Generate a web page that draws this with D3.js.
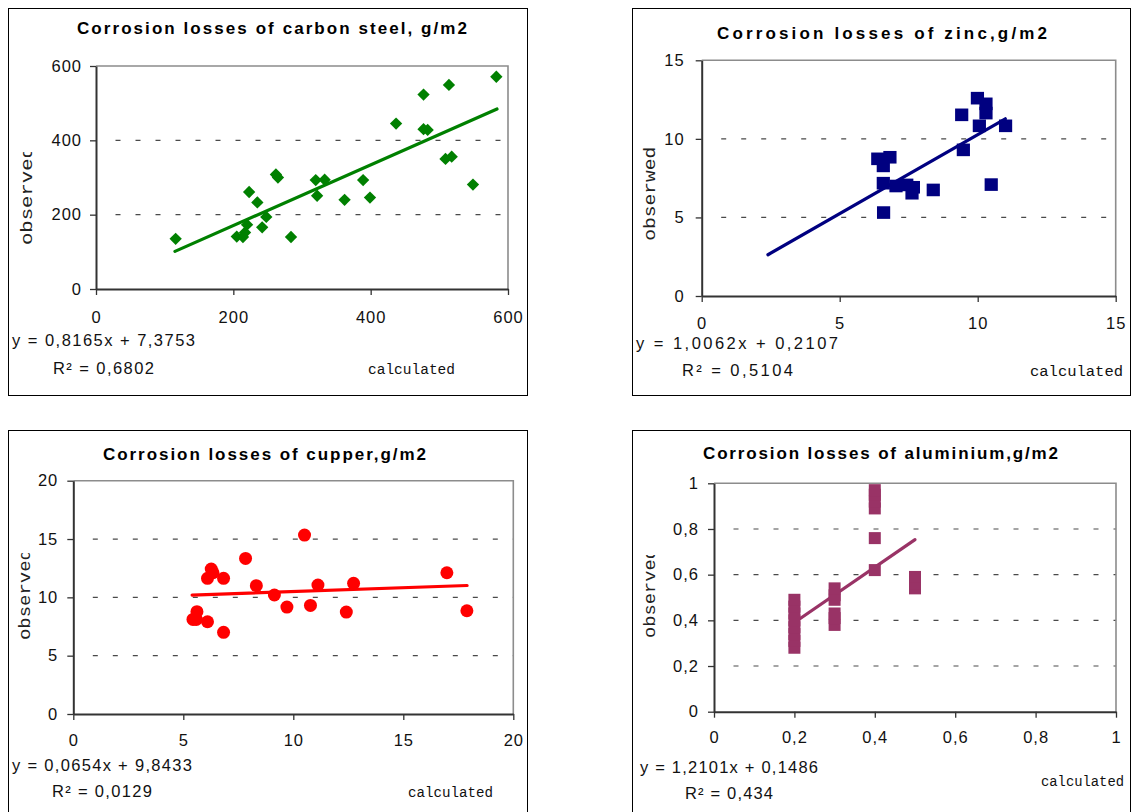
<!DOCTYPE html>
<html><head><meta charset="utf-8">
<script src="https://cdn.jsdelivr.net/npm/d3@7"></script>
<style>body{margin:0;background:#fff}svg{display:block}</style>
</head><body><svg id="c" width="1131" height="812"></svg>
<script>
// ---------- data ----------
const steelCalculated=[116,205,214,217,220,223,235,242,248,262,265,284,320,322,333,362,389,399,437,477,477,483,509,514,518,549,583];
const steelObserved  =[135,141,140,152,173,261,233,166,194,308,300,140,293,251,294,240,293,246,445,523,430,428,350,549,356,281,571];
const steelTicks=[0,200,400,600];
const steelTickLabels=["0","200","400","600"];

const zincCalculated=[6.38,6.82,6.58,6.58,7.04,7.43,7.67,7.62,6.59,8.39,9.42,9.99,10.30,10.30,10.06,11.01,9.48,10.49];
const zincObserved  =[8.73,8.83,8.28,7.18,7.00,7.07,6.92,6.54,5.31,6.75,11.53,12.59,12.23,11.64,10.83,10.83,9.30,7.09];
const zincTicks=[0,5,10,15];
const zincTickLabels=["0","5","10","15"];

const copperCalculated=[5.44,5.59,5.62,6.10,6.10,6.27,6.35,6.83,6.83,7.83,8.32,9.14,9.71,10.51,10.78,11.12,12.41,12.74,16.98,17.89];
const copperObserved  =[8.11,8.11,8.77,7.91,11.63,12.43,12.11,11.63,7.00,13.34,11.00,10.20,9.17,15.34,9.31,11.05,8.74,11.20,12.11,8.85];
const copperTicks=[0,5,10,15,20];
const copperTickLabels=["0","5","10","15","20"];

const aluCalculated=[0.2,0.2,0.2,0.2,0.2,0.2,0.2,0.2,0.3,0.3,0.3,0.3,0.3,0.3,0.4,0.4,0.4,0.4,0.4,0.4,0.5,0.5,0.5];
const aluObserved  =[0.28,0.31,0.34,0.37,0.40,0.43,0.46,0.49,0.38,0.41,0.43,0.49,0.51,0.54,0.62,0.76,0.89,0.92,0.95,0.97,0.54,0.56,0.59];
const aluTicks=[0,0.2,0.4,0.6,0.8,1];
const aluTickLabels=["0","0,2","0,4","0,6","0,8","1"];

const titles=["Corrosion losses of carbon steel, g/m2","Corrosion losses of zinc,g/m2","Corrosion losses of cupper,g/m2","Corrosion losses of aluminium,g/m2"];
const yLabels=["observed","obserwed","observed","observed"];
const xLabel="calculated";
const equations=["y = 0,8165x + 7,3753","y = 1,0062x + 0,2107","y = 0,0654x + 9,8433","y = 1,2101x + 0,1486"];
const rSquared=["R² = 0,6802","R² = 0,5104","R² = 0,0129","R² = 0,434"];
const trendSlope=[0.8165,1.0062,0.0654,1.2101];
const trendIntercept=[7.3753,0.2107,9.8433,0.1486];
const trendFrom=[115,2.4,5.4,0.2];
const trendTo=[584,11.0,17.9,0.5];
const colors=["#008000","#000080","#ff0000","#993366"];

// ---------- layout ----------
const svg=d3.select("#c");
const defs=svg.append("defs");
const panels=[
 {xs:steelCalculated,ys:steelObserved,ticks:steelTicks,labels:steelTickLabels,max:600,marker:"diamond",
  box:[8,8,527,395],plot:{l:96,r:508,t:66,b:289},yPad:8,xPad:16.5,
  title:{cx:272,y:33.5,w:390},eq:{x:12,y:345.5,w:183},r2:{x:53,y:374,w:101},calc:{x:368,y:374,w:87},
  obs:{x:31.5,y:245,w:99,clip:152}},
 {xs:zincCalculated,ys:zincObserved,ticks:zincTicks,labels:zincTickLabels,max:15,marker:"square",
  box:[632,8,1130,395],plot:{l:701.7,r:1115.7,t:60.3,b:296},yPad:11,xPad:15.5,
  title:{cx:882,y:38.5,w:330},eq:{x:636,y:348.5,w:202},r2:{x:682,y:376,w:111},calc:{x:1030,y:375.5,w:93},
  obs:{x:655,y:240.7,w:94,clip:0}},
 {xs:copperCalculated,ys:copperObserved,ticks:copperTicks,labels:copperTickLabels,max:20,marker:"circle",
  box:[8,430,527,812],plot:{l:73.3,r:513.3,t:480.7,b:714},yPad:9,xPad:14.5,
  title:{cx:264.5,y:460,w:323},eq:{x:12,y:770.5,w:180},r2:{x:52,y:796.5,w:100},calc:{x:408,y:796.5,w:85},
  obs:{x:30,y:640,w:91,clip:553}},
 {xs:aluCalculated,ys:aluObserved,ticks:aluTicks,labels:aluTickLabels,max:1,marker:"rect",
  box:[632,430,1130,812],plot:{l:714,r:1116,t:483.3,b:711.7},yPad:9,xPad:14,
  title:{cx:880.5,y:459,w:355},eq:{x:640,y:772.5,w:178},r2:{x:685,y:798.5,w:88},calc:{x:1041,y:785.5,w:83},
  obs:{x:655,y:638,w:90,clip:555}}
];

panels.forEach((p,i)=>{
 const g=svg.append("g");
 const [bx0,by0,bx1,by1]=p.box;
 g.append("rect").attr("x",bx0+0.5).attr("y",by0+0.5).attr("width",bx1-bx0).attr("height",by1-by0)
  .attr("fill","#fff").attr("stroke","#000").attr("stroke-width",1);
 const {l,r,t,b}=p.plot;
 const x=d3.scaleLinear().domain([0,p.max]).range([l,r]);
 const y=d3.scaleLinear().domain([0,p.max]).range([b,t]);

 // title
 g.append("text").attr("x",p.title.cx).attr("y",p.title.y).attr("text-anchor","middle")
  .attr("font-family","'Liberation Sans',Arial,sans-serif").attr("font-weight","bold").attr("font-size",17)
  .attr("textLength",p.title.w).attr("lengthAdjust","spacing").attr("fill","#000").text(titles[i]);

 // grid
 g.selectAll("line.grid").data(p.ticks.filter(v=>v>0&&v<p.max)).join("line").attr("class","grid")
  .attr("x1",l+19.5).attr("x2",r).attr("y1",d=>y(d)).attr("y2",d=>y(d))
  .attr("stroke","#4a4a4a").attr("stroke-width",1.2).attr("stroke-dasharray","5,15");

 // top/right border
 g.append("path").attr("d",`M${l},${t}H${r}V${b}`).attr("fill","none").attr("stroke","#8c8c8c").attr("stroke-width",1.6);

 // axes
 const fmt=(d)=>p.labels[p.ticks.indexOf(d)];
 const ay=g.append("g").attr("transform",`translate(${l},0)`)
  .call(d3.axisLeft(y).tickValues(p.ticks).tickFormat(fmt).tickSizeInner(6).tickSizeOuter(0).tickPadding(p.yPad));
 const axx=g.append("g").attr("transform",`translate(0,${b})`)
  .call(d3.axisBottom(x).tickValues(p.ticks).tickFormat(fmt).tickSizeInner(6).tickSizeOuter(0).tickPadding(p.xPad));
 [ay,axx].forEach(a=>{
  a.attr("font-family",null).attr("font-size",null);
  a.select(".domain").attr("stroke","#333").attr("stroke-width",2);
  a.selectAll(".tick line").attr("stroke","#333").attr("stroke-width",1.3);
  a.selectAll(".tick text").attr("fill","#111").attr("font-family","'Liberation Sans',Arial,sans-serif")
   .attr("font-size",16.5).attr("letter-spacing","1px");
 });

 // trend line
 const tl=[trendFrom[i],trendTo[i]];
 g.append("line").attr("x1",x(tl[0])).attr("y1",y(trendSlope[i]*tl[0]+trendIntercept[i]))
  .attr("x2",x(tl[1])).attr("y2",y(trendSlope[i]*tl[1]+trendIntercept[i]))
  .attr("stroke",colors[i]).attr("stroke-width",3.2).attr("stroke-linecap","round");

 // markers
 const pts=p.xs.map((v,k)=>({cx:v,cy:p.ys[k]}));
 const mg=g.append("g").attr("fill",colors[i]);
 if(p.marker==="diamond"){
  mg.selectAll("path").data(pts).join("path").attr("d",d3.symbol(d3.symbolSquare,76)())
   .attr("transform",d=>`translate(${x(d.cx)},${y(d.cy)}) rotate(45)`);
 } else if(p.marker==="square"){
  mg.selectAll("rect").data(pts).join("rect").attr("x",d=>x(d.cx)-6.6).attr("y",d=>y(d.cy)-6.3)
   .attr("width",13.2).attr("height",12.6);
 } else if(p.marker==="circle"){
  mg.selectAll("circle").data(pts).join("circle").attr("cx",d=>x(d.cx)).attr("cy",d=>y(d.cy)).attr("r",6.5);
 } else {
  mg.selectAll("rect").data(pts).join("rect").attr("x",d=>x(d.cx)-6).attr("y",d=>y(d.cy)-6)
   .attr("width",12).attr("height",12);
 }

 // texts
 const sans="'Liberation Sans',Arial,sans-serif", mono="'Liberation Mono','Courier New',monospace";
 g.append("text").attr("x",p.eq.x).attr("y",p.eq.y).attr("font-family",sans).attr("font-size",16.5)
  .attr("textLength",p.eq.w).attr("lengthAdjust","spacing").attr("fill","#111").text(equations[i]);
 g.append("text").attr("x",p.r2.x).attr("y",p.r2.y).attr("font-family",sans).attr("font-size",16.5)
  .attr("textLength",p.r2.w).attr("lengthAdjust","spacing").attr("fill","#111").text(rSquared[i]);
 g.append("text").attr("x",p.calc.x).attr("y",p.calc.y).attr("font-family",mono).attr("font-size",14)
  .attr("textLength",p.calc.w).attr("lengthAdjust","spacingAndGlyphs").attr("fill","#111").text(xLabel);
 let og=g;
 if(p.obs.clip){
  const id="clipObs"+i;
  defs.append("clipPath").attr("id",id).append("rect").attr("x",p.box[0]+2).attr("y",p.obs.clip)
   .attr("width",60).attr("height",p.obs.y-p.obs.clip+20);
  og=g.append("g").attr("clip-path",`url(#${id})`);
 }
 og.append("text").attr("transform",`translate(${p.obs.x},${p.obs.y}) rotate(-90)`)
  .attr("font-family",mono).attr("font-size",16).attr("textLength",p.obs.w).attr("lengthAdjust","spacingAndGlyphs")
  .attr("fill","#222").text(yLabels[i]);
});
</script>
</body></html>
